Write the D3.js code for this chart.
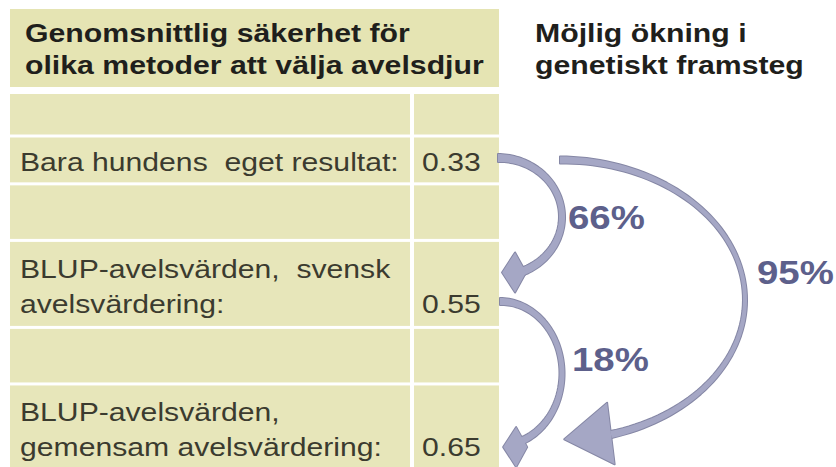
<!DOCTYPE html>
<html lang="sv">
<head>
<meta charset="UTF-8">
<title>Säkerhet för metoder att välja avelsdjur</title>
<script src="https://d3js.org/d3.v7.min.js"></script>
<style>
    html, body { margin: 0; padding: 0; background: #fff; }
    svg { display: block; }
    text { font-family: "Liberation Sans", Arial, sans-serif; white-space: pre; }
    .head { font-size: 25px; font-weight: bold; fill: #1f1f1c; }
    .cell { font-size: 26px; fill: #3b3b2f; }
    .gain { font-size: 34px; font-weight: bold; fill: #5d608b; }
</style>
</head>
<body>
<svg id="chart" width="836" height="467"></svg>
<script>
    // titles
    var leftTitle = ["Genomsnittlig säkerhet för", "olika metoder att välja avelsdjur"];
    var rightTitle = ["Möjlig ökning i", "genetiskt framsteg"];

    // methods (label lines) and average accuracy
    var methods = [
        ["Bara hundens  eget resultat:"],
        ["BLUP-avelsvärden,  svensk", "avelsvärdering:"],
        ["BLUP-avelsvärden,", "gemensam avelsvärdering:"]
    ];
    var accuracy = [0.33, 0.55, 0.65];

    // possible increase in genetic progress (%), from method -> to method
    var gainFrom = [0, 1, 0];
    var gainTo = [1, 2, 2];
    var gainPct = [66, 18, 95];

    // ---- layout ----
    var tableX = 10, tableW = 489, splitX = 410, gap = 3;
    var rowUnits = [1, 1.1, 1.3, 2, 1.3, 2];   // spacer, method, spacer, method, spacer, method
    var unitPx = 43.5, lineH = 35, stretch = 1.16;
    var cum = [0].concat(Array.from(d3.cumsum(rowUnits)));

    var y = d3.scaleLinear()
        .domain([0, d3.sum(rowUnits)])
        .range([94, 94 + unitPx * d3.sum(rowUnits)]);

    var svg = d3.select("#chart");

    function stretchText(g, x, yy, str, sx, cls) {
        return g.append("text")
            .attr("class", cls)
            .attr("transform", "translate(" + x + "," + yy + ") scale(" + sx + ",1)")
            .text(str);
    }

    // header cell
    svg.append("rect")
        .attr("x", tableX).attr("y", 9)
        .attr("width", tableW).attr("height", 78)
        .attr("fill", "#e5e4b3");

    leftTitle.forEach(function(t, i) { stretchText(svg, 25, 42 + i * 32, t, 1.21, "head"); });
    rightTitle.forEach(function(t, i) { stretchText(svg, 535, 42 + i * 32, t, 1.21, "head"); });

    // table rows
    var rows = svg.append("g");
    rowUnits.forEach(function(u, i) {
        var top = y(cum[i]), h = y(cum[i + 1]) - top - gap;
        rows.append("rect").attr("x", tableX).attr("y", top)
            .attr("width", splitX - tableX).attr("height", h).attr("fill", "#e7e6ba");
        rows.append("rect").attr("x", splitX + 4).attr("y", top)
            .attr("width", tableX + tableW - splitX - 4).attr("height", h).attr("fill", "#e7e6ba");
    });

    // method texts, remember centre of value text
    var valueY = [];
    methods.forEach(function(lines, k) {
        var r = 2 * k + 1;
        var c = (y(cum[r]) + y(cum[r + 1]) - gap) / 2;
        var n = lines.length;
        lines.forEach(function(t, j) {
            var base = c + 11.5 + (j - (n - 1) / 2) * lineH;
            stretchText(rows, 20, base, t, stretch, "cell");
        });
        var vBase = c + 11.5 + ((n - 1) / 2) * lineH;
        stretchText(rows, 422, vBase, d3.format(".2f")(accuracy[k]), stretch, "cell");
        valueY.push(vBase - 9.5);
    });

    // arrow geometry (per arrow): elliptic shaft from top to angle a1, head anchored at angle ah
    // head: ang = pointing direction (deg), lt = tip distance, lb = barb distance,
    //       nb = notch distance, w = half width, sh = sideways shift (+ = up for leftward heads)
    var arrowLayout = [
        { cx: 498, rx: 64, ry: 59, dy0: -4, a1: 70, ah: 64, wEnd: 8, wMid: 6,
          head: { ang: 180, lt: 24, lb: 11, nb: 0, w: 20, sh: -2.5 }, lx: 568, ly: 12.5 },
        { cx: 500, rx: 62, ry: 72, dy0: -2, a1: 70, ah: 64, wEnd: 7, wMid: 5,
          head: { ang: 180, lt: 24, lb: 11, nb: 0, w: 20, sh: -9 }, lx: 572, ly: -2.5 },
        { cx: 560, rx: 185, ry: 140, dy0: -2, a1: 74, ah: 74, wEnd: 7, wMid: 4,
          head: { ang: 173, lt: 47, lb: 0, nb: 0, w: 31, sh: 1 }, lx: 757, ly: -15.5 }
    ];

    var line = d3.line();
    var arrows = svg.append("g");
    var shapes = [];

    gainPct.forEach(function(p, i) {
        var s = arrowLayout[i];
        var top = valueY[gainFrom[i]] + s.dy0;
        var cy = top + s.ry;
        var a0 = -Math.PI / 2, a1 = s.a1 * Math.PI / 180, n = 80;
        var left = [], right = [];
        d3.range(n + 1).forEach(function(k) {
            var t = k / n, a = a0 + (a1 - a0) * t;
            var px = s.cx + s.rx * Math.cos(a), py = cy + s.ry * Math.sin(a);
            var dx = -s.rx * Math.sin(a), dy = s.ry * Math.cos(a), L = Math.hypot(dx, dy);
            dx /= L; dy /= L;
            var hw = (s.wEnd - (s.wEnd - s.wMid) * Math.sin(Math.PI * t)) / 2;
            left.push([px - dy * hw, py + dx * hw]);
            right.push([px + dy * hw, py - dx * hw]);
        });
        shapes.push(line(left.concat(right.reverse())) + "Z");

        // arrow head
        var h = s.head, ah = s.ah * Math.PI / 180;
        var pe = [s.cx + s.rx * Math.cos(ah), cy + s.ry * Math.sin(ah)];
        var ex = Math.cos(h.ang * Math.PI / 180), ey = Math.sin(h.ang * Math.PI / 180);
        var nx = -ey, ny = ex;   // normal
        var ox = pe[0] + nx * h.sh, oy = pe[1] + ny * h.sh;
        var headPts = [
            [ox + ex * h.lt, oy + ey * h.lt],
            [ox + ex * h.lb + nx * h.w, oy + ey * h.lb + ny * h.w],
            [ox + ex * h.nb, oy + ey * h.nb],
            [ox + ex * h.lb - nx * h.w, oy + ey * h.lb - ny * h.w]
        ];
        shapes.push(line(headPts) + "Z");

        stretchText(arrows, s.lx, cy + s.ly, p + "%", 1.13, "gain");
    });

    // outline pass, then fill pass so shaft and head merge
    var shapeG = svg.insert("g", "g:last-of-type");
    shapeG.selectAll("path.outline").data(shapes).enter().append("path")
        .attr("class", "outline")
        .attr("d", function(d) { return d; })
        .attr("fill", "#8587a5").attr("stroke", "#8587a5")
        .attr("stroke-width", 2).attr("stroke-linejoin", "round");
    shapeG.selectAll("path.fill").data(shapes).enter().append("path")
        .attr("class", "fill")
        .attr("d", function(d) { return d; })
        .attr("fill", "#a5a7c5");
</script>
</body>
</html>
